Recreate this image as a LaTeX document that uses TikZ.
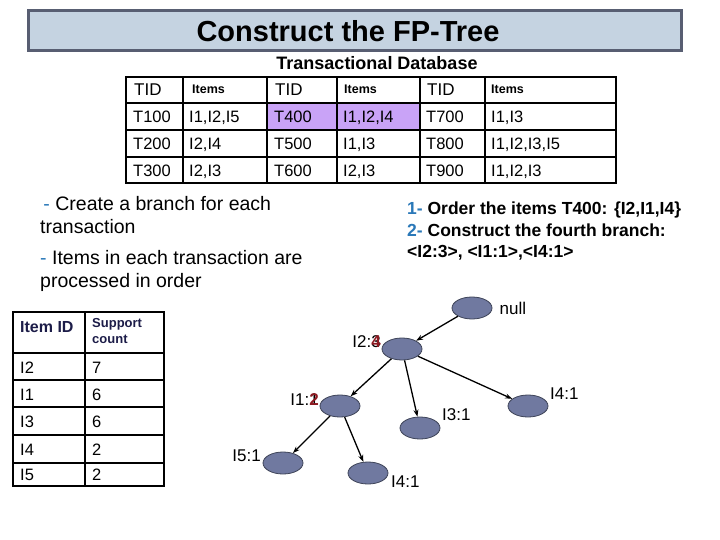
\documentclass[tikz,border=0pt]{standalone}
\usepackage{fontspec}
\setmainfont{Liberation Sans}
\usetikzlibrary{positioning, arrows.meta, shapes.geometric}

\definecolor{titlefill}{HTML}{C5D3E1}
\definecolor{titleedge}{HTML}{585E72}
\definecolor{nodefill}{HTML}{7079A0}
\definecolor{nodeedge}{HTML}{3E4458}
\definecolor{hilite}{HTML}{C9A3F7}
\definecolor{dashblue}{HTML}{2A78B8}
\definecolor{cntred}{HTML}{8E1A22}
\definecolor{headnavy}{HTML}{1C1C48}

\begin{document}
\begin{tikzpicture}[
		x=1pt, y=-1pt,
		>={Stealth[length=7pt, width=5pt]},
		fpnode/.style={ellipse, draw=nodeedge, fill=nodefill, line width=0.8pt,
			minimum width=40pt, minimum height=22pt, inner sep=0pt},
		cnt/.style={font=\fontsize{17}{20}\selectfont, inner sep=1pt},
		cell/.style={anchor=base west, inner sep=0pt, font=\fontsize{16.5}{19}\selectfont},
		headcell/.style={anchor=base west, inner sep=0pt, font=\fontsize{17}{20}\selectfont},
		itemcell/.style={anchor=base west, inner sep=0pt, font=\bfseries\fontsize{12.5}{14}\selectfont},
		grid/.style={line width=1.4pt},
		link/.style={->, line width=1.3pt}
		]
		
		\useasboundingbox (0,0) rectangle (720,540);
		
		% Title bar
		\draw[titleedge, fill=titlefill, line width=3pt] (28,11) rectangle (681,51);
		\node[font=\bfseries\fontsize{29}{32}\selectfont] (title) at (348,31) {Construct the FP-Tree};
		
		% Transactional database
		\node[font=\bfseries\fontsize{18}{21}\selectfont] (dbtitle) at (377,63) {Transactional Database};
		\fill[hilite] (267,103) rectangle (420,130);
		\foreach \yy in {103,130,157}
			\draw[grid] (126,\yy) -- (616,\yy);
		\foreach \xx in {183,267,337,420,485}
			\draw[grid] (\xx,77) -- (\xx,183);
		\draw[line width=2pt] (126,77) rectangle (616,183);
		
		\node[headcell] (h1) at (134,96) {TID};
		\node[itemcell] (h2) at (192,94) {Items};
		\node[headcell] (h3) at (275,96) {TID};
		\node[itemcell] (h4) at (344,94) {Items};
		\node[headcell] (h5) at (427,96) {TID};
		\node[itemcell] (h6) at (491,94) {Items};
		
		\node[cell] (t100) at (133,123) {T100};
		\node[cell] (r1a) at (189,123) {I1,I2,I5};
		\node[cell] (t400) at (274,123) {T400};
		\node[cell] (r1b) at (343,123) {I1,I2,I4};
		\node[cell] (t700) at (426,123) {T700};
		\node[cell] (r1c) at (491,123) {I1,I3};
		
		\node[cell] (t200) at (133,150) {T200};
		\node[cell] (r2a) at (189,150) {I2,I4};
		\node[cell] (t500) at (274,150) {T500};
		\node[cell] (r2b) at (343,150) {I1,I3};
		\node[cell] (t800) at (426,150) {T800};
		\node[cell] (r2c) at (491,150) {I1,I2,I3,I5};
		
		\node[cell] (t300) at (133,177) {T300};
		\node[cell] (r3a) at (189,177) {I2,I3};
		\node[cell] (t600) at (274,177) {T600};
		\node[cell] (r3b) at (343,177) {I2,I3};
		\node[cell] (t900) at (426,177) {T900};
		\node[cell] (r3c) at (491,177) {I1,I2,I3};
		
		% Notes
		\node[anchor=north west, align=left, inner sep=0pt, font=\fontsize{19.5}{23.5}\selectfont] (note1) at (40,196)
			{\textcolor{dashblue}{\,-} Create a branch for each\\transaction};
		\node[anchor=north west, align=left, inner sep=0pt, font=\fontsize{19.5}{23.5}\selectfont] (note2) at (40,250)
			{\textcolor{dashblue}{-} Items in each transaction are\\processed in order};
		\node[anchor=north west, align=left, inner sep=0pt, font=\bfseries\fontsize{17.5}{21.5}\selectfont] (steps) at (407,202)
			{\textcolor{dashblue}{1-} Order the items T400: \{I2,I1,I4\}\\
			 \textcolor{dashblue}{2-} Construct the fourth branch:\\
			 <I2:3>, <I1:1>,<I4:1>};
		
		% Item support counts
		\foreach \yy in {353,380,407,435,463}
			\draw[grid] (13,\yy) -- (164,\yy);
		\draw[grid] (85,312) -- (85,486);
		\draw[line width=2pt] (13,312) rectangle (164,486);
		\node[anchor=base west, inner sep=0pt, text=headnavy, font=\bfseries\fontsize{16}{19}\selectfont] (itemid) at (20,332) {Item ID};
		\node[anchor=north west, align=left, inner sep=0pt, text=headnavy, font=\bfseries\fontsize{13}{16}\selectfont] (support) at (92,318) {Support\\count};
		\node[cell] (i2) at (20,373) {I2};   \node[cell] (c2) at (92,373) {7};
		\node[cell] (i1) at (20,400) {I1};   \node[cell] (c1) at (92,400) {6};
		\node[cell] (i3) at (20,427) {I3};   \node[cell] (c3) at (92,427) {6};
		\node[cell] (i4) at (20,455) {I4};   \node[cell] (c4) at (92,455) {2};
		\node[cell] (i5) at (20,480) {I5};   \node[cell] (c5) at (92,480) {2};
		
		% FP-tree
		\node[fpnode] (null) at (472,308) {};
		\node[fpnode] (n2) at (402,349) {};
		\node[fpnode] (n1) at (340,406) {};
		\node[fpnode] (n3) at (420,428) {};
		\node[fpnode] (n4a) at (528,406) {};
		\node[fpnode] (n5) at (283,463) {};
		\node[fpnode] (n4b) at (368,473) {};
		
		\node[cnt, right=6pt of null] (lnull) {null};
		\node[cnt, anchor=east] (l2) at (382,342) {I2:\rlap{3}\textcolor{cntred}{\textbf{4}}};
		\node[cnt, anchor=east] (l1) at (320,400) {I1:\rlap{1}\textcolor{cntred}{\textbf{2}}};
		\node[cnt, anchor=west] (l3) at (441,415) {I3:1};
		\node[cnt, anchor=west] (l4a) at (549,394) {I4:1};
		\node[cnt, anchor=east] (l5) at (262,456) {I5:1};
		\node[cnt, anchor=west] (l4b) at (390,482) {I4:1};
		
		\draw[link] (null) -- (n2);
		\draw[link] (n2) -- (n1);
		\draw[link] (n2) -- (n3);
		\draw[link] (n2) -- (n4a);
		\draw[link] (n1) -- (n5);
		\draw[link] (n1) -- (n4b);
		
	\end{tikzpicture}
\end{document}
